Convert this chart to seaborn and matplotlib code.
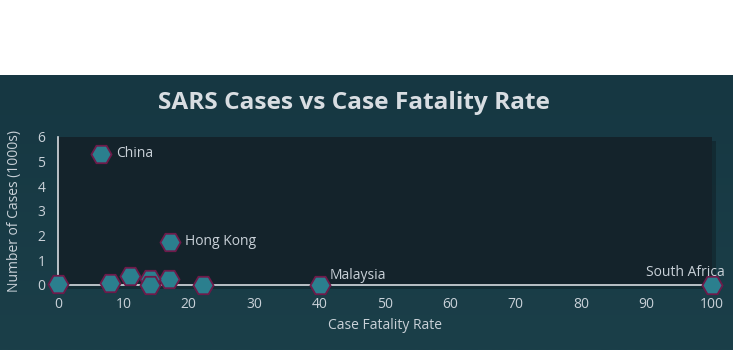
import numpy as np
import pandas as pd
import matplotlib
matplotlib.use("Agg")
import matplotlib.pyplot as plt
import seaborn as sns
from matplotlib.colors import LinearSegmentedColormap

# ---- data ----
countries = ["China", "Hong Kong", "Taiwan", "Canada", "Singapore", "Vietnam",
             "Philippines", "Thailand", "Malaysia", "South Africa", "United States"]
fatality_rate = [6.6, 17.1, 11.0, 17.0, 14.0, 8.0, 14.0, 22.2, 40.0, 100.0, 0.0]
cases_thousands = [5.327, 1.755, 0.346, 0.251, 0.238, 0.063, 0.014, 0.009, 0.005, 0.001, 0.027]
labelled = ["China", "Hong Kong", "Malaysia", "South Africa"]
x_ticks = list(range(0, 101, 10))
y_ticks = list(range(0, 7))

df = pd.DataFrame({"country": countries, "cfr": fatality_rate, "cases": cases_thousands})

sns.set_style("dark")
plt.rcParams["font.family"] = ["Open Sans", "DejaVu Sans"]
txt = "#c9d1d8"

W, H = 733, 350
fig = plt.figure(figsize=(W / 100, H / 100), dpi=100)
fig.patch.set_facecolor("white")

# background panel with gradient
bg = fig.add_axes([0, 0, 1, 275 / H], zorder=-10)
grad = np.linspace(0, 1, 256).reshape(-1, 1)
cmap = LinearSegmentedColormap.from_list("bgc", ["#163742", "#1b3f49"])
bg.imshow(grad, aspect="auto", cmap=cmap, extent=[0, 1, 0, 1], origin="upper")
bg.set_axis_off()

left, right, top, bottom = 58, 712, 137, 285
ax_rect = [left / W, 1 - bottom / H, (right - left) / W, (bottom - top) / H]

# shadow
sh = fig.add_axes([ax_rect[0] + 4 / W, ax_rect[1] - 4 / H, ax_rect[2], ax_rect[3]], zorder=-5)
sh.set_facecolor("#0f1e24")
sh.patch.set_alpha(0.5)
sh.set_xticks([]); sh.set_yticks([])
for s in sh.spines.values():
    s.set_visible(False)

ax = fig.add_axes(ax_rect)
ax.set_facecolor("#14232b")

sns.scatterplot(data=df, x="cfr", y="cases", marker="H", s=210,
                color="#2b7f8e", edgecolor="#6e1a4a", linewidth=1.3,
                ax=ax, clip_on=False, zorder=5, legend=False)

ax.set_xlim(0, 100)
ax.set_ylim(0, 6)
ax.set_xticks(x_ticks)
ax.set_yticks(y_ticks)
ax.grid(False)
for side in ["top", "right"]:
    ax.spines[side].set_visible(False)
for side in ["left", "bottom"]:
    ax.spines[side].set_color("#d6dbe0")
    ax.spines[side].set_linewidth(1.2)
ax.tick_params(axis="x", direction="in", length=4, color="#d6dbe0", labelcolor=txt,
               labelsize=10, pad=9)
ax.tick_params(axis="y", direction="out", length=4, color="#d6dbe0", labelcolor=txt,
               labelsize=10, pad=5)
ax.set_xlabel("Case Fatality Rate", color=txt, fontsize=10, labelpad=4)
ax.set_ylabel("Number of Cases (1000s)", color=txt, fontsize=10, labelpad=11)

offsets = {"China": (11, 0, "left", "center"),
           "Hong Kong": (11, 0, "left", "center"),
           "Malaysia": (7, 7, "left", "center"),
           "South Africa": (9, 9, "right", "center")}
for c, x, y in zip(countries, fatality_rate, cases_thousands):
    if c in labelled:
        dx, dy, ha, va = offsets[c]
        ax.annotate(c, (x, y), xytext=(dx, dy), textcoords="offset points",
                    ha=ha, va=va, color=txt, fontsize=10, zorder=6)

fig.text(354 / W, 1 - 103 / H, "SARS Cases vs Case Fatality Rate", ha="center",
         va="center", color="#d8dde2", fontsize=17.6, fontweight="bold")

fig.savefig("out.png", dpi=100, facecolor=fig.get_facecolor())
